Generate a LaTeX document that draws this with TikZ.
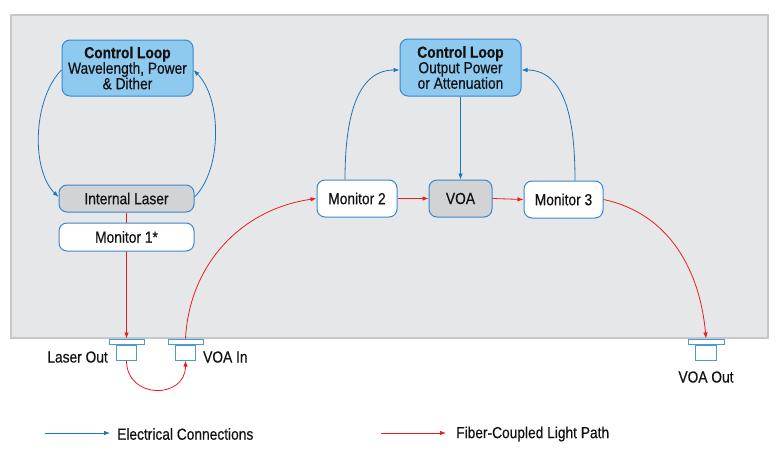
\documentclass[tikz,border=0pt]{standalone}
\usepackage{fontspec}
\setmainfont{Liberation Sans}[FakeStretch=0.86,FakeBold=0.4]
\usetikzlibrary{arrows.meta}
\definecolor{panelfill}{HTML}{E6E7E8}
\definecolor{panelline}{HTML}{C6C7C8}
\definecolor{clfill}{HTML}{8ECAF0}
\definecolor{boxline}{HTML}{3A88CC}
\definecolor{grayfill}{HTML}{D1D3D4}
\definecolor{redline}{HTML}{ED1C24}
\definecolor{blueline}{HTML}{1B75BC}
\definecolor{portline}{HTML}{4A9AD6}
\definecolor{txt}{HTML}{111111}
\pgfdeclarelayer{bg}
\pgfdeclarelayer{mid}
\pgfsetlayers{bg,mid,main}
\tikzset{
  box/.style={draw=boxline, line width=1pt, rounded corners=8pt, inner sep=0pt, align=center,
    text=txt, font=\fontsize{16}{15.5}\selectfont},
  ctrlbox/.style={box, fill=clfill},
  graybox/.style={box, fill=grayfill},
  whitebox/.style={box, fill=white},
  elec/.style={draw=blueline, line width=0.8pt, -{Latex[length=6pt,width=4.5pt]}},
  fiber/.style={draw=redline, line width=0.8pt, -{Latex[length=6pt,width=4.5pt]}},
  port/.style={draw=portline, line width=1pt, fill=white, inner sep=0pt},
  lbl/.style={font=\fontsize{16}{15.5}\selectfont, text=txt, inner sep=0pt},
}
\begin{document}
\begin{tikzpicture}[x=1pt,y=1pt]
\useasboundingbox (0,0) rectangle (780,-450);
\begin{pgfonlayer}{bg}
\fill[white] (0,0) rectangle (780,-450);
\draw[panelline, fill=panelfill, line width=1.2pt] (11,-15) rectangle (768,-338);
\end{pgfonlayer}

% nodes
\node[ctrlbox, minimum width=131pt, minimum height=56pt] (cl1) at (127.5,-68)
  {\textbf{Control Loop}\\Wavelength, Power\\\& Dither};
\node[graybox, minimum width=135pt, minimum height=27pt] (laser) at (126.5,-198.5) {Internal Laser};
\node[whitebox, minimum width=135pt, minimum height=28pt] (mon1) at (126.5,-237) {Monitor 1*};
\node[ctrlbox, minimum width=121pt, minimum height=57pt] (cl2) at (460.5,-67.5)
  {\textbf{Control Loop}\\Output Power\\or Attenuation};
\node[whitebox, minimum width=80pt, minimum height=37pt] (mon2) at (357,-198.5) {Monitor 2};
\node[graybox, minimum width=63pt, minimum height=37pt] (voa) at (460.5,-198.5) {VOA};
\node[whitebox, minimum width=79pt, minimum height=37pt] (mon3) at (563.5,-199.5) {Monitor 3};

% ports
\node[port, minimum width=35pt, minimum height=5pt] (lofl) at (126.5,-341.5) {};
\node[port, minimum width=20pt, minimum height=15pt, anchor=north] (lobody) at (lofl.south) {};
\node[port, minimum width=35pt, minimum height=5pt] (vifl) at (185.5,-341.5) {};
\node[port, minimum width=20pt, minimum height=15pt, anchor=north] (vibody) at (vifl.south) {};
\node[port, minimum width=36pt, minimum height=5pt] (vofl) at (706,-341.5) {};
\node[port, minimum width=21pt, minimum height=15pt, anchor=north] (vobody) at (vofl.south) {};

\node[lbl, anchor=east] (lolbl) at (108,-357) {Laser Out};
\node[lbl, anchor=west] (vilbl) at (203,-357) {VOA In};
\node[lbl] (volbl) at (706,-377) {VOA Out};

% electrical
\draw[elec] ([yshift=-2pt]cl1.west) to[out=225,in=135,looseness=0.8] ([yshift=1.5pt]laser.west);
\draw[elec] ([yshift=1.5pt]laser.east) to[out=45,in=-45,looseness=0.8] ([yshift=-2pt]cl1.east);
\draw[elec] (cl2.south) -- (voa.north);
\draw[elec] ([xshift=-12pt]mon2.north) to[out=90,in=180] ([yshift=-2.5pt]cl2.west);
\draw[elec] ([xshift=11.5pt]mon3.north) to[out=90,in=0] ([yshift=-2.5pt]cl2.east);

% fiber
\begin{pgfonlayer}{mid}
\draw[fiber] (laser.south) -- (lofl.north);
\end{pgfonlayer}
\draw[fiber] (lobody.south) to[out=-90,in=-90,looseness=1.7] (vibody.south);
\draw[fiber] (vifl.north) to[out=87,in=188] (mon2.west);
\draw[fiber] (mon2.east) -- (voa.west);
\draw[fiber] (voa.east) -- (mon3.west);
\draw[fiber] (mon3.east) to[out=-12,in=95] (vofl.north);

% legend
\coordinate (e1) at (45,-433);
\coordinate (e2) at (110,-433);
\coordinate (f1) at (381,-433);
\coordinate (f2) at (446,-433);
\draw[elec] (e1) -- (e2);
\draw[fiber] (f1) -- (f2);
\node[lbl, anchor=west] (elbl) at (117,-434) {Electrical Connections};
\node[lbl, anchor=west] (flbl) at (456,-434) {Fiber-Coupled Light Path};
\end{tikzpicture}
\end{document}
